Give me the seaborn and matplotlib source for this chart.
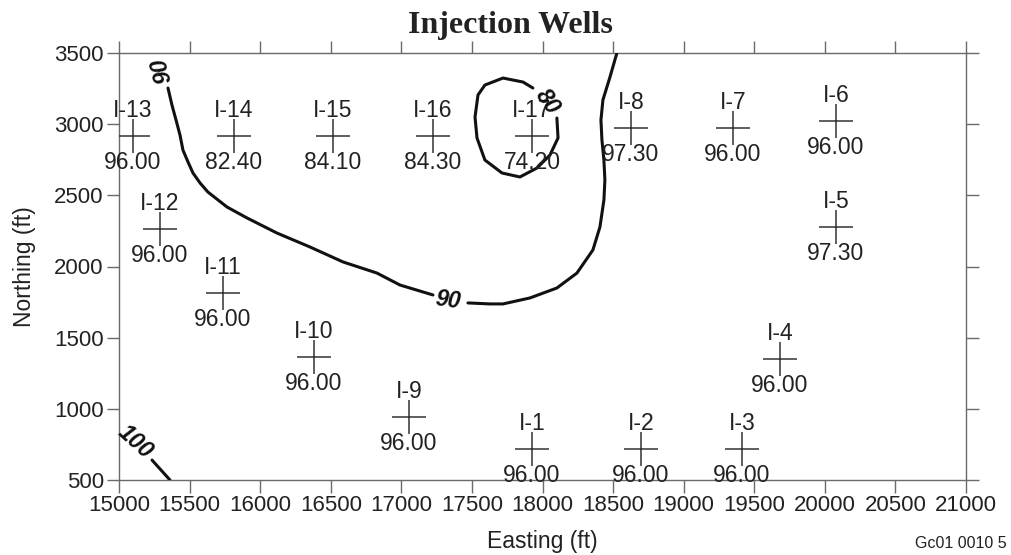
import matplotlib
matplotlib.use("Agg")
import matplotlib.pyplot as plt
import seaborn as sns
import pandas as pd

# ---- data ----
well_names = ["I-1", "I-2", "I-3", "I-4", "I-5", "I-6", "I-7", "I-8",
              "I-9", "I-10", "I-11", "I-12", "I-13", "I-14", "I-15", "I-16", "I-17"]
well_east = [17925, 18697, 19412, 19681, 20078, 20078, 19348, 18626,
             17054, 16381, 15736, 15290, 15099, 15814, 16516, 17224, 17925]
well_north = [717, 717, 717, 1350, 2277, 3022, 2973, 2973,
              942, 1364, 1813, 2263, 2917, 2917, 2917, 2917, 2917]
well_values = ["96.00", "96.00", "96.00", "96.00", "97.30", "96.00", "96.00", "97.30",
               "96.00", "96.00", "96.00", "96.00", "96.00", "82.40", "84.10", "84.30", "74.20"]

# contour 90 (two pieces split by label gap)
c90a_x = [15347, 15375, 15404, 15432, 15453, 15489, 15524, 15574, 15630, 15765,
          15907, 16119, 16353, 16587, 16827, 16990, 17224]
c90a_y = [3254, 3135, 3029, 2924, 2818, 2734, 2657, 2587, 2523, 2418,
          2341, 2235, 2137, 2032, 1954, 1870, 1800]
c90b_x = [17472, 17628, 17720, 17911, 18102, 18244, 18357, 18407, 18435, 18442,
          18435, 18421, 18414, 18428, 18478, 18527]
c90b_y = [1744, 1737, 1737, 1779, 1849, 1954, 2116, 2278, 2467, 2608,
          2748, 2889, 3029, 3170, 3331, 3500]
# contour 80 (closed loop, opened at label)
c80_x = [18102, 18110, 18053, 17961, 17840, 17713, 17592, 17536, 17522, 17543,
         17592, 17720, 17862, 17932]
c80_y = [3043, 2903, 2783, 2692, 2629, 2657, 2748, 2903, 3050, 3205,
         3275, 3324, 3296, 3254]
# contour 100
c100_x = [15234, 15361]
c100_y = [640, 500]

contour_labels = ["90", "90", "80", "100"]
contour_label_x = [15305, 17330, 18032, 15113]
contour_label_y = [3381, 1765, 3156, 767]
contour_label_rot = [105, -8, -55, -42]

x_ticks = list(range(15000, 21001, 500))
y_ticks = list(range(500, 3501, 500))

# ---- style ----
sns.set_theme(style="ticks")
plt.rcParams["font.family"] = ["Liberation Sans", "DejaVu Sans"]

fig = plt.figure(figsize=(10.11, 5.55), dpi=100)
ax = fig.add_axes([119 / 1011, 1 - 480 / 555, (966 - 119) / 1011, (480 - 53) / 555])

spine_col = "#6a6a6a"
text_col = "#222222"

wells = pd.DataFrame({"east": well_east, "north": well_north})
sns.scatterplot(data=wells, x="east", y="north", marker="+", s=620,
                color="#333333", linewidth=1.1, ax=ax, zorder=3)

for xs, ys in [(c90a_x, c90a_y), (c90b_x, c90b_y), (c80_x, c80_y), (c100_x, c100_y)]:
    df = pd.DataFrame({"x": xs, "y": ys})
    sns.lineplot(data=df, x="x", y="y", sort=False, estimator=None,
                 color="#111111", linewidth=2.2, ax=ax, zorder=4)

for name, e, n, v in zip(well_names, well_east, well_north, well_values):
    ax.annotate(name, (e, n), xytext=(0, 13.5), textcoords="offset points",
                ha="center", va="baseline", fontsize=16.5, color=text_col, zorder=5)
    ax.annotate(v, (e, n), xytext=(0, -23.5), textcoords="offset points",
                ha="center", va="baseline", fontsize=16.5, color=text_col, zorder=5)

for lab, lx, ly, rot in zip(contour_labels, contour_label_x, contour_label_y, contour_label_rot):
    ax.text(lx, ly, lab, rotation=rot, rotation_mode="anchor", ha="center", va="center",
            fontsize=16.5, fontstyle="italic", fontweight="bold", color="#111111", zorder=6)

ax.set_xlim(15000, 21000)
ax.set_ylim(500, 3500)
ax.set_xticks(x_ticks)
ax.set_yticks(y_ticks)
ax.tick_params(axis="both", which="both", direction="out", length=9, width=1,
               color=spine_col, labelsize=16, labelcolor=text_col,
               top=True, right=True, labeltop=False, labelright=False, pad=2)
for sp in ax.spines.values():
    sp.set_visible(True)
    sp.set_color(spine_col)
    sp.set_linewidth(1.0)

ax.set_xlabel("Easting (ft)", fontsize=16.5, color=text_col, labelpad=10)
ax.set_ylabel("Northing (ft)", fontsize=16.5, color=text_col, labelpad=13)

fig.text(0.505, 1 - 33 / 555, "Injection Wells", ha="center", va="baseline",
         fontsize=23, fontweight="bold", family=["Liberation Serif", "DejaVu Serif"],
         color=text_col)
fig.text(915 / 1011, 1 - 548 / 555, "Gc01 0010 5", ha="left", va="baseline",
         fontsize=11.5, color=text_col)

fig.savefig("out.png", dpi=100)
